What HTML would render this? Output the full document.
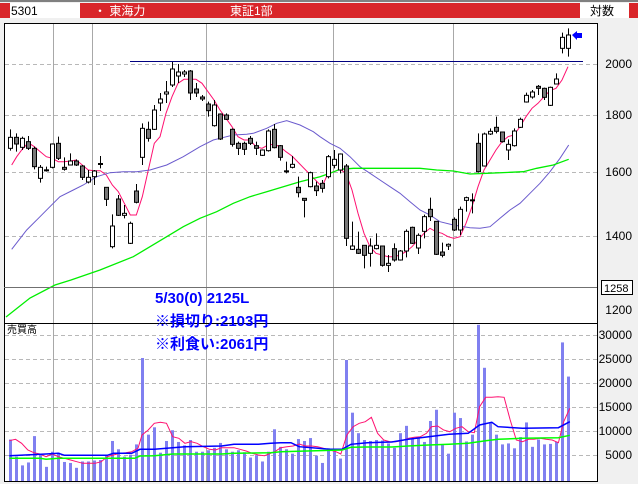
<!DOCTYPE html>
<html><head><meta charset="utf-8">
<style>
html,body{margin:0;padding:0;background:#f0f0f0;width:638px;height:484px;overflow:hidden;}
svg{display:block;}
text{font-family:"Liberation Sans","Noto Sans CJK JP",sans-serif;}
</style></head><body>
<svg id="s" width="638" height="484" xmlns="http://www.w3.org/2000/svg">
<rect x="0" y="0" width="638" height="484" fill="#f0f0f0"/>
<rect x="0" y="0" width="638" height="2" fill="#808080"/>
<rect x="0" y="3" width="638" height="15" fill="#d9262a"/>
<rect x="10" y="3" width="70" height="15" fill="#fff"/>
<rect x="580" y="3" width="49" height="15" fill="#fff"/>
<text x="11" y="15" font-size="12" fill="#000">5301</text>
<text x="94" y="15" font-size="12" fill="#fff">・ 東海力</text>
<text x="230" y="15" font-size="12" fill="#fff">東証1部</text>
<text x="590" y="15" font-size="12" fill="#000">対数</text>
<rect x="4.5" y="23.5" width="593" height="458" fill="#fff" stroke="#000"/>
<g id="grid"></g>
<g id="vol"></g>
<g id="lines"></g>
<g id="candles"></g>
<line x1="130" y1="61.5" x2="583" y2="61.5" stroke="#000080" stroke-width="1"/>
<polygon points="572,35 577,31 577,33 582,33 582,38 577,38 577,40" fill="#0000ff"/>
<line x1="4" y1="287.5" x2="597" y2="287.5" stroke="#707070"/>
<line x1="4" y1="323.5" x2="597" y2="323.5" stroke="#000"/>
<text x="7" y="333" font-size="10" fill="#000">売買高</text>
<g font-size="15" font-weight="bold" fill="#0000ff">
<text x="155" y="303">5/30(0) 2125L</text>
<text x="155" y="326">※損切り:2103円</text>
<text x="155" y="349">※利食い:2061円</text>
</g>
<g font-size="12" fill="#000" text-anchor="end">
<text x="632" y="68">2000</text>
<text x="632" y="119">1800</text>
<text x="632" y="176">1600</text>
<text x="632" y="240">1400</text>
<text x="632" y="314">1200</text>
<text x="632" y="339">30000</text>
<text x="632" y="363">25000</text>
<text x="632" y="387">20000</text>
<text x="632" y="411">15000</text>
<text x="632" y="435">10000</text>
<text x="632" y="459">5000</text>
</g>
<rect x="601.5" y="280.5" width="31" height="14" fill="#fff" stroke="#000"/>
<text x="604" y="292" font-size="11" fill="#000">1258</text>
</svg>
<script>
var NS="http://www.w3.org/2000/svg";
function el(p,t,a){var e=document.createElementNS(NS,t);for(var k in a)e.setAttribute(k,a[k]);document.getElementById(p).appendChild(e);return e;}
// grid
[53,92,206,333,453].forEach(function(x){el("grid","line",{x1:x+.5,y1:24,x2:x+.5,y2:481,stroke:"#a8a8a8"});});
[64,115,172,236,335,359,383,407,431,455].forEach(function(y){el("grid","line",{x1:5,y1:y+.5,x2:597,y2:y+.5,stroke:"#b8b8b8","stroke-dasharray":"4,3"});});
// volumes
var V=[8500,5000,3200,3800,9200,5500,2900,6000,5800,3900,3700,2700,4000,4000,4200,4300,5200,8200,6500,5000,5400,7500,25200,9500,11000,5800,8200,10400,8000,7300,8400,6000,6000,6300,6800,7800,6500,6000,6300,5900,4800,5300,4000,6000,10600,7000,6500,5600,8600,8200,8800,5200,3700,6700,6500,4600,24800,14000,9800,8400,8200,8400,8300,7700,6800,9800,11300,8600,9000,8000,12300,14600,7400,5600,14000,12900,8100,9500,32000,23200,12000,9500,7500,7700,6700,9000,12000,7000,8500,7500,7600,8000,28400,21400];
V.forEach(function(v,i){var x=10+6*i;var h=v*24.4/5000;el("vol","rect",{x:x-1,y:481-h,width:3,height:h,fill:"#8080f0"});});
function poly(pts,col,w){el("lines","polyline",{points:pts.map(function(p){return p[0].toFixed(1)+","+p[1].toFixed(1)}).join(" "),fill:"none",stroke:col,"stroke-width":w||1});}
function z4(a){return a.map(function(p){return [p[0]/2.45,p[1]/3+310];});}
poly(z4([[23,392],[38,388],[53,400],[68,420],[83,428],[98,432],[113,440],[128,432],[143,440],[158,445],[173,450],[188,455],[203,460],[218,460],[233,460],[248,455],[263,440],[278,435],[293,430],[308,428],[323,425],[338,415],[348,375],[363,360],[378,340],[393,337],[408,340],[423,380],[438,385],[453,400],[468,395],[483,400],[498,410],[513,418],[528,420],[543,413],[558,413],[573,413],[588,418],[603,423],[618,430],[633,435],[648,437],[663,430],[673,425],[688,413],[703,410],[718,408],[733,402],[748,408],[763,408],[778,410],[793,415],[808,420],[823,425],[835,432],[850,375],[865,350],[880,340],[895,335],[910,322],[925,370],[940,390],[955,395],[970,395],[985,392],[1000,385],[1015,382],[1030,380],[1045,370],[1057,350],[1072,348],[1087,360],[1102,365],[1117,355],[1132,350],[1147,365],[1162,368],[1175,290],[1190,262],[1205,262],[1220,260],[1235,262],[1250,330],[1265,390],[1280,395],[1295,388],[1308,388],[1323,385],[1338,388],[1353,390],[1368,398],[1381,335],[1396,295]]),"#ff1070");
poly(z4([[23,437],[113,432],[143,430],[158,436],[263,436],[278,430],[323,430],[343,418],[378,418],[423,413],[453,410],[543,408],[573,403],[633,403],[663,400],[688,398],[713,398],[733,410],[808,418],[838,418],[860,403],[900,398],[960,396],[1000,388],[1050,380],[1100,373],[1147,370],[1175,345],[1205,337],[1220,350],[1280,355],[1368,353],[1396,335]]),"#0000ff",1.5);
poly(z4([[23,445],[98,445],[113,448],[143,445],[263,445],[278,445],[330,445],[343,438],[378,437],[423,432],[543,432],[573,430],[663,428],[688,425],[838,420],[860,412],[900,411],[960,411],[1000,408],[1050,405],[1100,403],[1147,400],[1190,392],[1220,388],[1280,385],[1368,383],[1396,376]]),"#00ff00",1.5);
// price MAs
function z2(a){return a.map(function(p){return [p[0]/3,p[1]/3+100];});}
function z5(a){return a.map(function(p){return [p[0]/3+140,p[1]/3+50];});}
function z3(a){return a.map(function(p){return [p[0]/3+320,p[1]/3+20];});}
var red=z2([[35,195],[50,170],[65,150],[85,128],[103,140],[121,155],[139,170],[157,175],[175,185],[193,185],[211,183],[229,180],[247,195],[265,210],[283,212],[301,212],[319,225],[337,255],[355,275],[373,310],[391,345],[409,345],[427,290],[445,210],[463,130]]).concat(z5([[60,260],[78,190],[96,140],[114,100],[132,88],[150,88],[168,88],[186,100],[204,125],[222,150],[240,180],[258,205],[276,230],[294,260],[312,270],[330,270],[348,290],[366,295],[384,285],[402,283],[420,290],[438,305],[456,318]])).concat(z3([[6,500],[24,460],[42,455],[60,448],[78,460],[96,510],[114,580],[132,640],[150,680],[168,700],[186,705],[204,710],[222,710],[240,705],[258,695],[276,680],[294,660],[312,640],[330,625],[348,635],[366,640],[384,650],[402,655],[420,650],[438,610],[456,560],[474,500],[492,450],[510,420],[528,390],[546,365],[564,350],[582,345],[600,320],[618,290],[636,265],[654,250],[672,230],[690,212],[708,205],[726,180],[744,140]]));
poly(red,"#ff1070");
var pur=z2([[35,448],[80,390],[120,350],[160,310],[180,290],[220,270],[250,255],[290,230],[330,218],[370,215],[410,215],[450,210],[500,195],[550,170],[600,140],[640,120],[660,115],[700,105],[740,103],[760,100],[800,85],[830,70],[860,62],[900,75],[940,95],[960,110]]).concat(z3([[30,370],[60,385],[90,410],[120,440],[150,460],[180,480],[210,500],[240,520],[270,545],[300,570],[330,585],[360,605],[400,615],[450,623],[480,625],[510,620],[540,595],[570,570],[600,550],[630,520],[660,490],[690,455],[720,415],[746,375]]));
poly(pur,"#6a5acd");
var grn=[[6,317],[30,298],[55,285]].concat(z2([[213,540],[300,510],[400,470],[450,440],[500,410],[550,380],[600,355],[650,335],[700,310],[750,290],[800,275],[850,260],[900,245],[960,230]])).concat(z3([[30,460],[60,448],[100,445],[200,445],[300,445],[350,450],[400,453],[450,462],[500,460],[570,457],[610,455],[650,445],[700,435],[746,418]]));
poly(grn,"#00ee00",1.3);
// candles: [bodyTop, bodyBot, wickTop, wickBot, dark(1)/white(0)/flat(2)], coords per zoom
var A=[[112,145,88,152,0],[112,132,100,155,1],[115,142,110,150,0],[125,145,108,150,1],[145,200,140,208,1],[202,235,195,248,0],[208,211,200,215,2],[132,202,130,205,0],[130,175,110,180,1],[202,208,172,212,1],[183,195,160,195,0],[183,195,178,198,1],[198,232,195,240,1],[232,246,210,250,0],[213,230,210,255,0],[189,192,168,205,2],[262,298,262,318,1],[378,440,343,445,0],[297,346,285,348,1],[340,346,315,355,0],[370,430,365,432,0],[273,307,252,310,1],[85,172,70,195,0],[88,115,65,125,1],[30,88,15,90,0]].map(function(c){return [c[0]/3+100,c[1]/3+100,c[2]/3+100,c[3]/3+100,c[4]];});
var B=[[99,103,93,111,0],[92,94,81,103,0],[69,85,62,87,0],[72,76,64,83,0],[72,74,70,77,0],[71,93,70,100,1],[89,93,83,97,1],[97,99,95,101,1]];
var C=[[12,32,5,50,1],[15,77,0,80,0],[42,117,40,120,1],[45,58,40,60,1],[88,133,85,140,1],[130,145,125,165,1],[130,148,125,165,1],[115,130,108,135,1],[137,145,125,165,1],[150,166,148,168,0],[93,152,88,155,0],[88,143,72,145,1],[137,172,135,182,1],[211,214,185,220,2],[193,202,168,205,0],[262,278,230,292,1],[295,301,295,352,1],[218,260,215,262,0],[258,272,245,288,1]].map(function(c){return [c[0]/3+100,c[1]/3+100,c[2]/3+100,c[3]/3+100,c[4]];});
var D=[[490,505,480,518,1],[410,470,405,475,0],[418,436,390,445,0],[402,450,400,460,0],[438,655,432,678,1],[678,688,605,690,0],[688,700,635,702,1],[676,706,676,745,1],[678,700,655,740,0],[676,686,640,688,0],[678,736,678,740,1],[730,736,705,756,0],[686,720,670,725,1],[693,720,690,722,0],[634,693,628,712,0],[622,670,620,672,1],[646,684,640,702,0],[590,634,584,655,0],[568,590,533,603,1],[604,703,604,705,1],[696,706,668,712,1],[673,678,670,690,0],[598,630,592,633,1],[568,630,560,645,0],[533,541,530,575,0],[538,541,520,580,2],[370,455,340,458,1],[342,438,338,440,0],[334,342,325,345,0],[322,334,290,340,1],[336,365,336,368,1],[373,390,358,420,0],[333,377,325,380,0],[298,322,293,324,0],[226,246,218,248,0],[216,231,210,236,0],[199,205,195,225,1],[205,232,203,240,1],[202,256,200,258,0],[177,192,160,192,0],[52,85,38,100,0],[45,85,25,110,0]].map(function(c){return [c[0]/3+20,c[1]/3+20,c[2]/3+20,c[3]/3+20,c[4]];});
var all=A.concat(B,C,D);
all.forEach(function(c,i){var x=10+6*i;
 el("candles","line",{x1:x+.5,y1:c[2],x2:x+.5,y2:c[3],stroke:"#000"});
 if(c[4]==2){el("candles","rect",{x:x-2,y:c[0],width:5,height:2,fill:"#000"});}
 else{var h=Math.max(c[1]-c[0],1.5);el("candles","rect",{x:x-1.5,y:c[0],width:4,height:h,fill:c[4]?"#777":"#fff",stroke:"#000","stroke-width":1});}
});
</script>
</body></html>
